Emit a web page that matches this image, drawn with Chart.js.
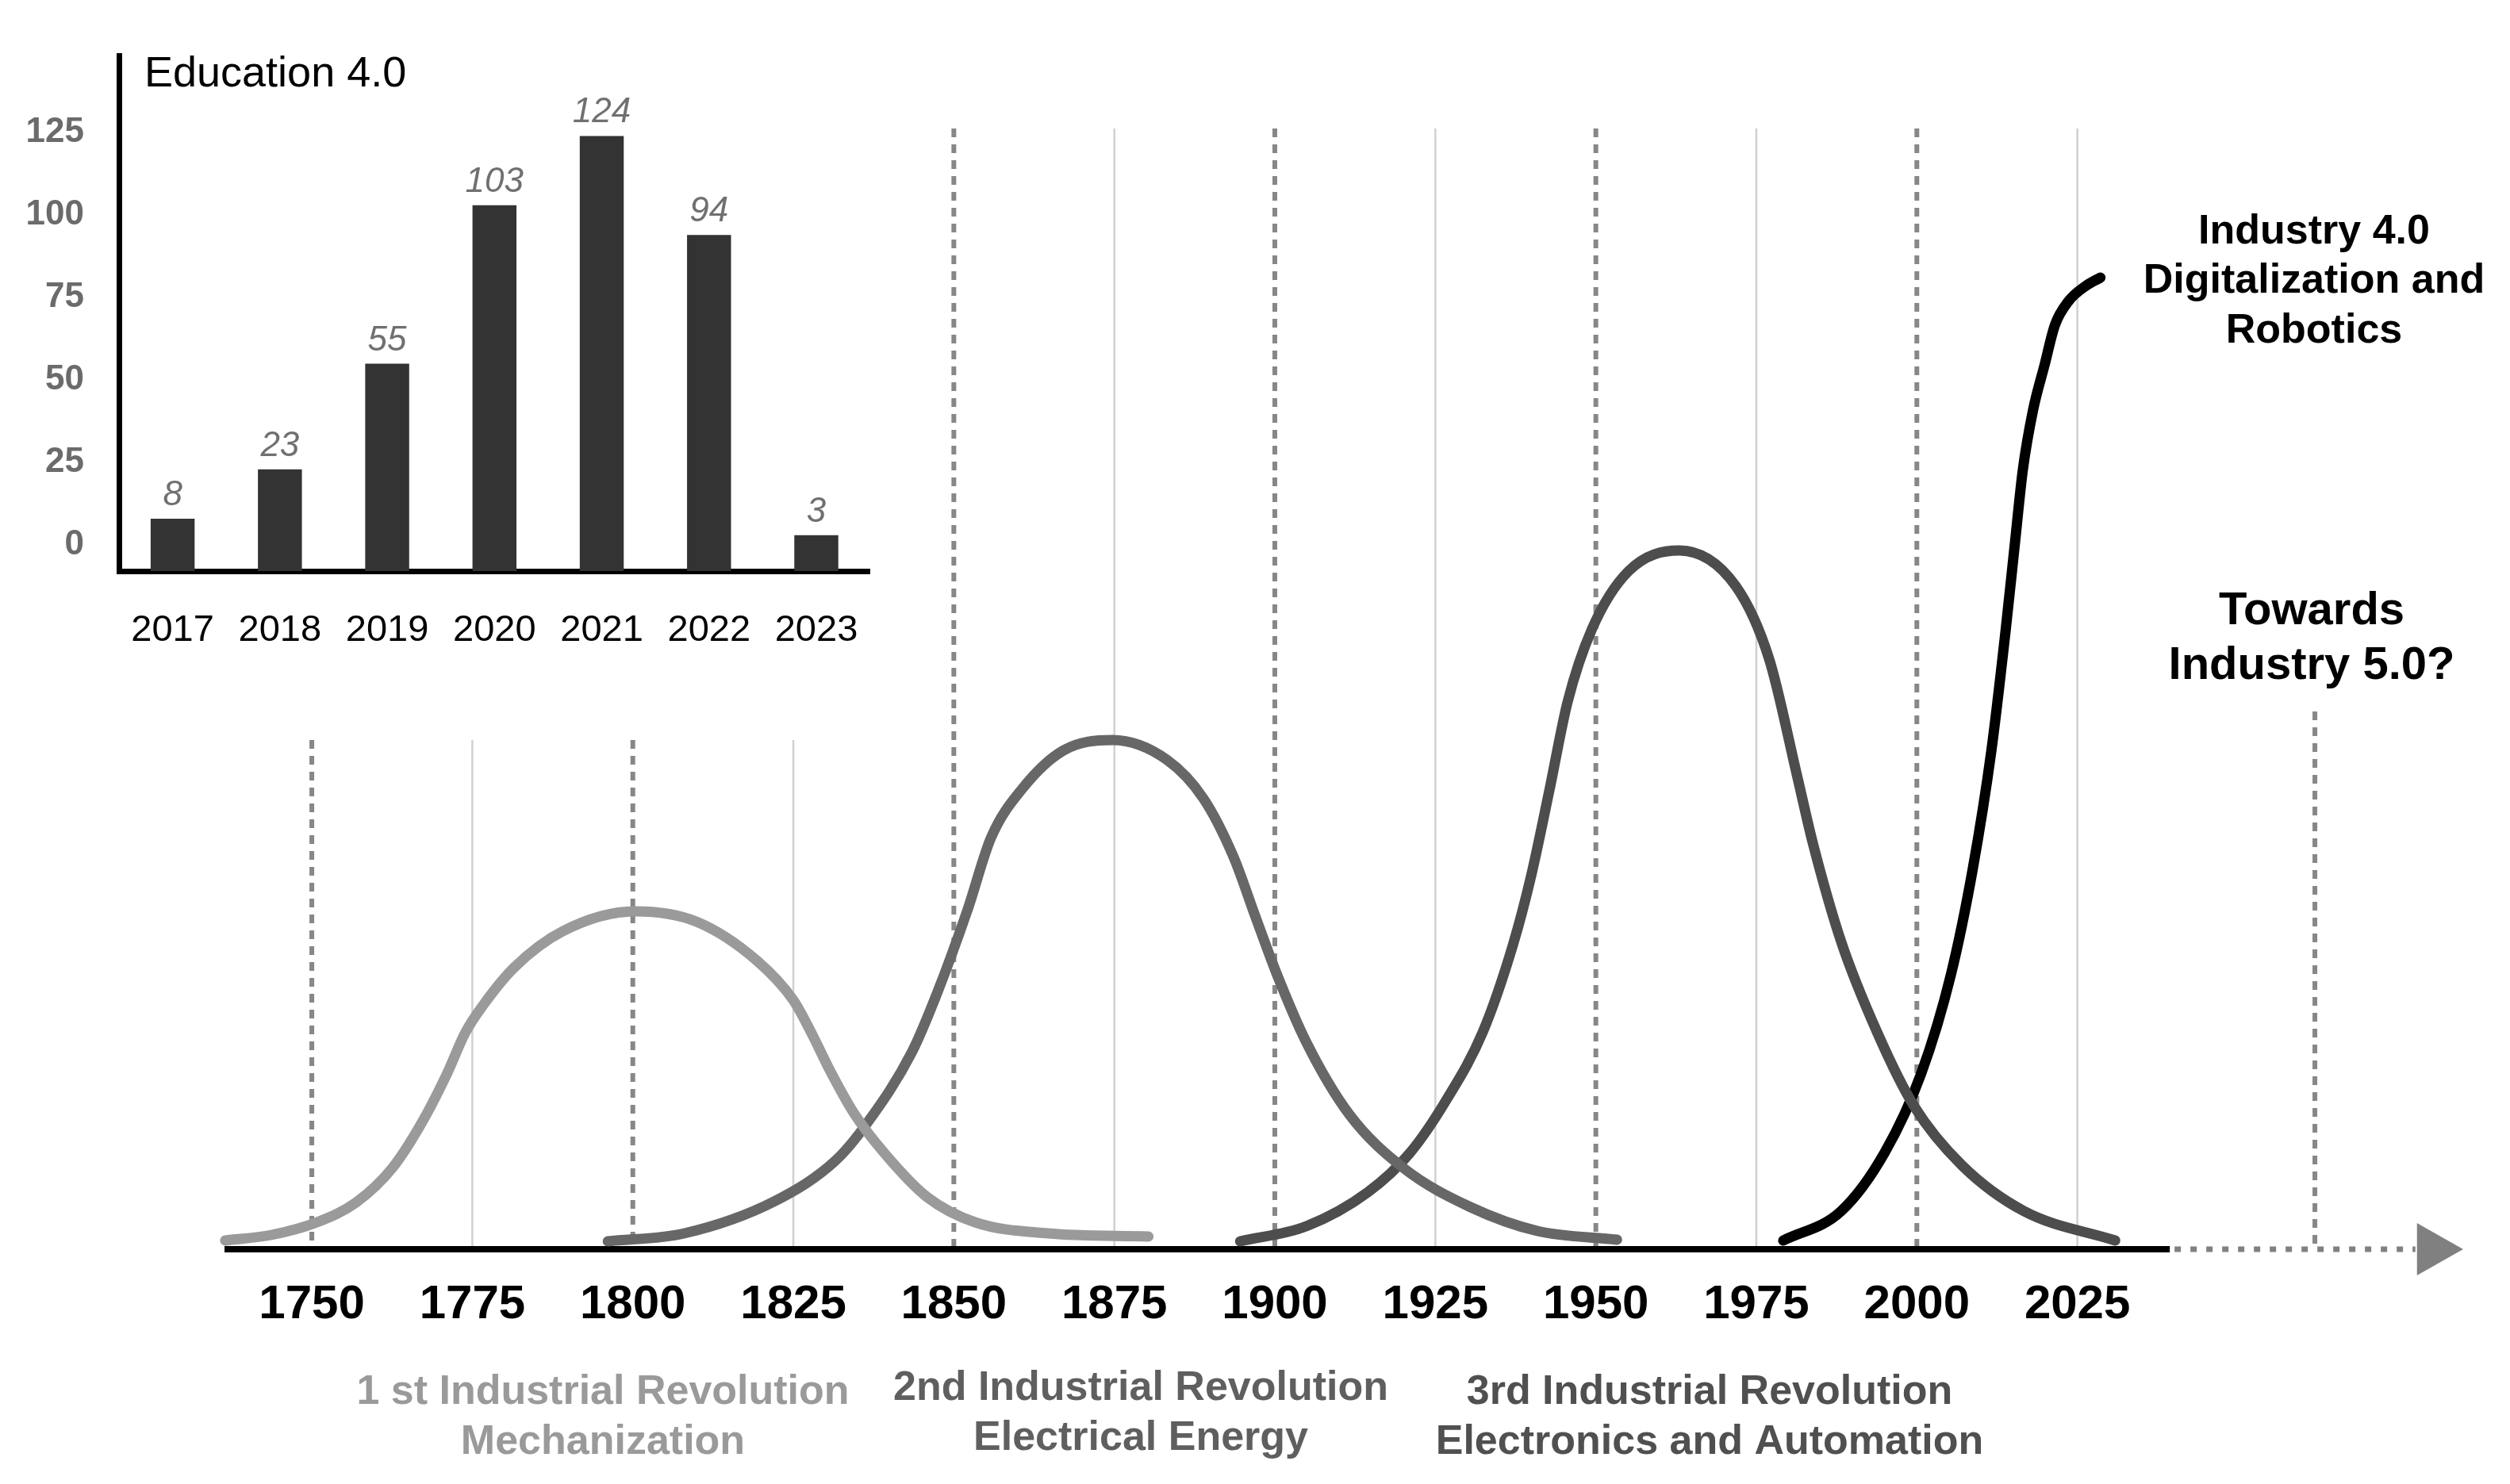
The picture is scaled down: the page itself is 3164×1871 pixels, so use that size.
<!DOCTYPE html>
<html>
<head>
<meta charset="utf-8">
<script src="https://cdn.jsdelivr.net/npm/chart.js@4.4.1/dist/chart.umd.min.js"></script>
<style>
  html, body { margin: 0; padding: 0; background: #fff; }
  #wrap { position: relative; width: 3164px; height: 1871px; overflow: hidden; background: #fff; }
  canvas { position: absolute; left: 0; top: 0; }
</style>
</head>
<body>
<div id="wrap">
  <canvas id="mainChart" width="3164" height="1871"></canvas>
  <canvas id="insetChart" width="1130" height="850"></canvas>
</div>
<script>
// inset: Education 4.0 papers per year
const pubYears = ["2017", "2018", "2019", "2020", "2021", "2022", "2023"];
const pubCounts = [8, 23, 55, 103, 124, 94, 3];
const pubTicks = [0, 25, 50, 75, 100, 125];

// main timeline axis
const timelineTicks = [1750, 1775, 1800, 1825, 1850, 1875, 1900, 1925, 1950, 1975, 2000, 2025];
const dashedYears = [1750, 1800, 1850, 1900, 1950, 2000, 2062];
const solidYears = [1775, 1825, 1875, 1925, 1975, 2025];

// revolution curves (year, relative intensity)
const firstYears = [1736.5, 1743.7, 1750.8, 1756.9, 1762.6, 1767.3, 1771.1, 1773.9, 1776.8, 1781.5, 1789.1, 1800.4,
  1809.9, 1819.3, 1825.0, 1827.8, 1830.6, 1834.4, 1839.2, 1845.8, 1853.3, 1864.7, 1880.3];
const firstValues = [1.1, 1.8, 3.4, 5.9, 10.3, 16.2, 22.2, 27.3, 30.9, 35.5, 40.1, 42.6,
  41.3, 36.4, 31.4, 27.3, 22.7, 17.2, 12.1, 6.6, 3.4, 2.0, 1.6];

const secondYears = [1796.1, 1808.0, 1822.2, 1831.6, 1836.4, 1843.5, 1847.4, 1852.1, 1855.8, 1860.6, 1867.1, 1874.7,
  1883.2, 1888.9, 1893.6, 1896.9, 1900.3, 1904.9, 1911.6, 1920.1, 1930.5, 1940.9, 1953.3];
const secondValues = [1.0, 2.0, 6.1, 11.2, 15.8, 24.9, 32.3, 42.7, 51.9, 58.0, 62.9, 64.2,
  61.7, 56.8, 49.4, 42.1, 34.7, 26.1, 17.0, 10.2, 5.3, 2.3, 1.2];

const thirdYears = [1894.6, 1904.9, 1914.5, 1921.0, 1926.7, 1932.4, 1937.1, 1939.9, 1942.8, 1945.6, 1949.4, 1955.1, 1963.0,
  1971.8, 1977.0, 1981.4, 1983.8, 1988.2, 1993.9, 1999.6, 2007.0, 2016.7, 2030.9];
const thirdValues = [1.0, 2.9, 7.2, 12.1, 18.8, 27.4, 38.4, 47.0, 58.0, 69.0, 78.2, 85.5, 88.1,
  83.6, 74.4, 59.5, 51.2, 38.8, 27.2, 18.0, 10.6, 4.8, 1.1];

const fourthYears = [1979.2, 1988.2, 1995.0, 2000.7, 2005.3, 2008.7, 2011.6, 2013.8, 2015.3, 2016.5,
  2018.1, 2019.9, 2021.5, 2023.6, 2026.4, 2028.6];
const fourthValues = [1.1, 4.8, 12.2, 22.2, 34.6, 47.9, 62.8, 77.8, 89.2, 98.2,
  105.8, 111.5, 116.5, 119.5, 121.5, 122.5];

const FONT = '"Liberation Sans", Arial, Helvetica, sans-serif';
Chart.defaults.font.family = FONT;

// ---------- main timeline ----------
const axisEndYear = 2039.4;
const arrowBaseYear = 2077.9;
const lowGridTop = 64.2;     // gridlines under the inset start lower
const highGridTop = 141.3;
const futureGridTop = 67.8;

const textBlocks = [
  { lines: ['1 st Industrial Revolution', 'Mechanization'], x: 760, y: [1770, 1833], color: '#9a9a9a', size: 52 },
  { lines: ['2nd Industrial Revolution', 'Electrical Energy'], x: 1438, y: [1765, 1828], color: '#5f5f5f', size: 52 },
  { lines: ['3rd Industrial Revolution', 'Electronics and Automation'], x: 2155, y: [1770, 1833], color: '#505050', size: 52 },
  { lines: ['Industry 4.0', 'Digitalization and', 'Robotics'], x: 2917, y: [307, 369, 432], color: '#000', size: 52 },
  { lines: ['Towards', 'Industry 5.0?'], x: 2914, y: [787, 856], color: '#000', size: 58 }
];

const timelineDecor = {
  id: 'timelineDecor',
  beforeDatasetsDraw(chart) {
    const { ctx, chartArea, scales: { x, y } } = chart;
    const base = y.getPixelForValue(0);
    ctx.save();

    ctx.strokeStyle = '#d0d0d0';
    ctx.lineWidth = 2.5;
    solidYears.forEach(yr => {
      const px = x.getPixelForValue(yr);
      const top = y.getPixelForValue(yr < 1850 ? lowGridTop : highGridTop);
      ctx.beginPath();
      ctx.moveTo(px, top);
      ctx.lineTo(px, base);
      ctx.stroke();
    });

    ctx.strokeStyle = '#878787';
    ctx.lineWidth = 6;
    ctx.setLineDash([11, 9]);
    dashedYears.forEach(yr => {
      const px = x.getPixelForValue(yr);
      let topVal = highGridTop;
      if (yr < 1850) topVal = lowGridTop;
      if (yr > 2025) topVal = futureGridTop;
      ctx.beginPath();
      ctx.moveTo(px, y.getPixelForValue(topVal));
      ctx.lineTo(px, base);
      ctx.stroke();
    });

    // axis line, dotted continuation and arrow head
    ctx.setLineDash([]);
    const axisEnd = x.getPixelForValue(axisEndYear);
    ctx.strokeStyle = '#000';
    ctx.lineWidth = 8;
    ctx.beginPath();
    ctx.moveTo(chartArea.left, base);
    ctx.lineTo(axisEnd, base);
    ctx.stroke();

    const arrowBase = x.getPixelForValue(arrowBaseYear);
    ctx.strokeStyle = '#808080';
    ctx.lineWidth = 7;
    ctx.setLineDash([8, 12]);
    ctx.beginPath();
    ctx.moveTo(axisEnd + 6, base);
    ctx.lineTo(arrowBase - 2, base);
    ctx.stroke();
    ctx.setLineDash([]);
    ctx.fillStyle = '#808080';
    ctx.beginPath();
    ctx.moveTo(arrowBase, base - 33);
    ctx.lineTo(chartArea.right, base);
    ctx.lineTo(arrowBase, base + 33);
    ctx.closePath();
    ctx.fill();
    ctx.restore();
  },
  afterDraw(chart) {
    const { ctx } = chart;
    ctx.save();
    ctx.textAlign = 'center';
    ctx.textBaseline = 'alphabetic';
    textBlocks.forEach(b => {
      ctx.font = `bold ${b.size}px ${FONT}`;
      ctx.fillStyle = b.color;
      b.lines.forEach((line, i) => ctx.fillText(line, b.x, b.y[i]));
    });
    ctx.restore();
  }
};

function curve(label, xs, ys, color, width) {
  return {
    label,
    data: xs.map((v, i) => ({ x: v, y: ys[i] })),
    borderColor: color,
    borderWidth: width,
    pointRadius: 0,
    fill: false,
    clip: false,
    cubicInterpolationMode: 'monotone',
    borderCapStyle: 'round',
    borderJoinStyle: 'round'
  };
}

new Chart(document.getElementById('mainChart'), {
  type: 'line',
  data: {
    datasets: [
      curve('1st Industrial Revolution', firstYears, firstValues, '#9a9a9a', 13),
      curve('2nd Industrial Revolution', secondYears, secondValues, '#676767', 13),
      curve('3rd Industrial Revolution', thirdYears, thirdValues, '#4d4d4d', 13),
      curve('Industry 4.0', fourthYears, fourthValues, '#000000', 13)
    ]
  },
  options: {
    responsive: false,
    animation: false,
    devicePixelRatio: 1,
    layout: { padding: { left: 283, right: 59, top: 75, bottom: 0 } },
    plugins: { legend: { display: false }, tooltip: { enabled: false } },
    scales: {
      x: {
        type: 'linear',
        min: 1736.4,
        max: 2085.1,
        afterBuildTicks: s => { s.ticks = timelineTicks.map(v => ({ value: v })); },
        afterFit: s => { s.height = 296; },
        grid: { display: false, drawTicks: false },
        border: { display: false },
        ticks: {
          padding: 34,
          color: '#000',
          autoSkip: false,
          maxRotation: 0,
          font: { size: 60, weight: 'bold' },
          callback: v => String(v)
        }
      },
      y: { display: false, min: 0, max: 150 }
    }
  },
  plugins: [timelineDecor]
});

// ---------- inset bar chart ----------
const insetMin = -7.85;

const insetDecor = {
  id: 'insetDecor',
  afterDatasetsDraw(chart) {
    const { ctx } = chart;
    const meta = chart.getDatasetMeta(0);
    ctx.save();
    ctx.font = `italic 44px ${FONT}`;
    ctx.fillStyle = '#707070';
    ctx.textAlign = 'center';
    ctx.textBaseline = 'alphabetic';
    meta.data.forEach((bar, i) => ctx.fillText(String(pubCounts[i]), bar.x, bar.y - 17));
    ctx.font = `54px ${FONT}`;
    ctx.fillStyle = '#000';
    ctx.textAlign = 'left';
    ctx.fillText('Education 4.0', 182, 109);
    ctx.restore();
  }
};

new Chart(document.getElementById('insetChart'), {
  type: 'bar',
  data: {
    labels: pubYears,
    datasets: [{
      label: 'Education 4.0',
      data: pubCounts,
      backgroundColor: '#333333',
      base: insetMin,
      barPercentage: 0.41,
      categoryPercentage: 1
    }]
  },
  options: {
    responsive: false,
    animation: false,
    devicePixelRatio: 1,
    layout: { padding: { left: 0, right: 24, top: 58, bottom: 0 } },
    plugins: { legend: { display: false }, tooltip: { enabled: false } },
    scales: {
      x: {
        afterFit: s => { s.height = 130; },
        grid: { display: false, drawTicks: false },
        border: { color: '#000', width: 7 },
        ticks: { padding: 47, color: '#000', font: { size: 47 } }
      },
      y: {
        min: insetMin,
        max: 148.3,
        afterBuildTicks: s => { s.ticks = pubTicks.map(v => ({ value: v })); },
        afterFit: s => { s.width = 150; },
        grid: { display: false, drawTicks: false },
        border: { color: '#000', width: 7 },
        ticks: { padding: 44, color: '#6b6b6b', font: { size: 44, weight: 'bold' } }
      }
    }
  },
  plugins: [insetDecor]
});
</script>
</body>
</html>
